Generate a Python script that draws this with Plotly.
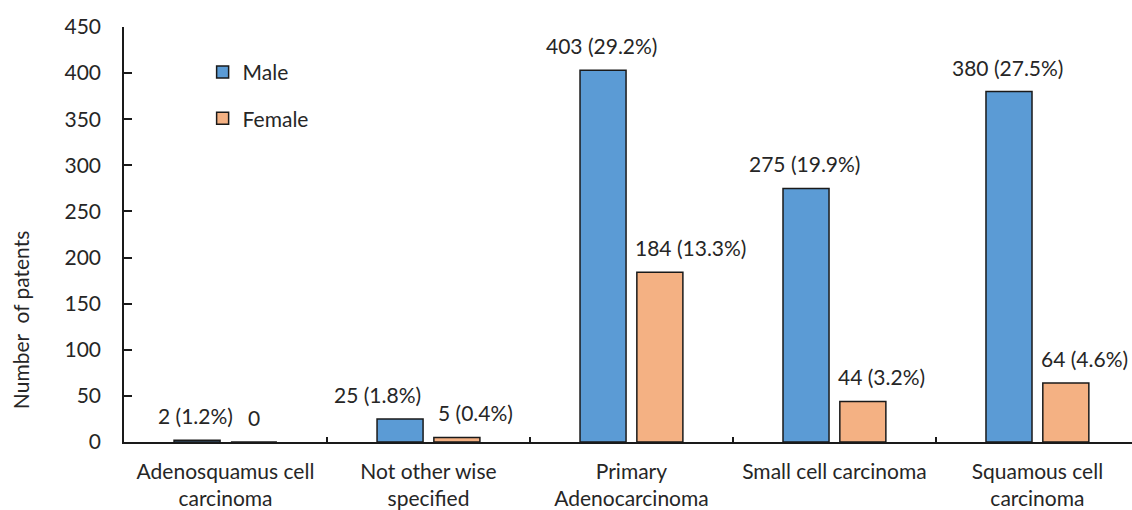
import plotly.graph_objects as go

categories = ["Adenosquamus cell<br>carcinoma", "Not other wise<br>specified",
              "Primary<br>Adenocarcinoma", "Small cell carcinoma",
              "Squamous cell<br>carcinoma"]
male = [2, 25, 403, 275, 380]
female = [0, 5, 184, 44, 64]
male_labels = ["2 (1.2%)", "25 (1.8%)", "403 (29.2%)", "275 (19.9%)", "380 (27.5%)"]
female_labels = ["0", "5 (0.4%)", "184 (13.3%)", "44 (3.2%)", "64 (4.6%)"]
y_ticks = [0, 50, 100, 150, 200, 250, 300, 350, 400, 450]

# label nudges (pixels), styling only
male_label_dx = [0, -21, 0, 0, 0]
female_label_dx = [19, 6, 0, 0, 0]

FONT = "Lato"
FS = 21
TXT = "#262626"

fig = go.Figure()
fig.add_trace(go.Bar(name="Male", x=categories, y=male,
                     marker=dict(color="#5B9BD5", line=dict(color="#1a1a1a", width=1.5)),
                     legendgroup="m"))
fig.add_trace(go.Bar(name="Female", x=categories, y=female,
                     marker=dict(color="#F4B183", line=dict(color="#1a1a1a", width=1.5)),
                     legendgroup="f"))

for c, v, t, dx in zip(categories, male, male_labels, male_label_dx):
    fig.add_annotation(x=c, y=v, text=t, showarrow=False, xref="x", yref="y",
                       xanchor="center", yanchor="bottom", xshift=-30 + dx, yshift=10,
                       font=dict(family=FONT, size=FS, color=TXT))
for c, v, t, dx in zip(categories, female, female_labels, female_label_dx):
    fig.add_annotation(x=c, y=v, text=t, showarrow=False, xref="x", yref="y",
                       xanchor="left", yanchor="bottom", xshift=2 + dx, yshift=10,
                       font=dict(family=FONT, size=FS, color=TXT))

fig.add_annotation(x=-0.102, y=0.294, xref="paper", yref="paper", text="Number  of patents",
                   textangle=-90, showarrow=False, xanchor="center", yanchor="middle",
                   font=dict(family=FONT, size=FS, color=TXT))

fig.update_layout(
    width=1132, height=510,
    margin=dict(l=124, r=0, t=27, b=68),
    plot_bgcolor="white", paper_bgcolor="white",
    barmode="group", bargap=0.44, bargroupgap=0.19,
    font=dict(family=FONT, size=FS, color=TXT),
    legend=dict(x=0.078, y=0.94, xanchor="left", yanchor="top",
                bgcolor="rgba(0,0,0,0)", traceorder="grouped", tracegroupgap=16,
                itemwidth=30,
                font=dict(family=FONT, size=FS, color=TXT)),
    xaxis=dict(range=[-0.5, 4.466], showline=True, linecolor="#1a1a1a", linewidth=1.5,
               ticks="inside", tickson="boundaries", ticklen=5, tickcolor="#1a1a1a",
               tickwidth=1.5, showgrid=False, zeroline=False, ticklabelstandoff=10),
    yaxis=dict(range=[0, 450], tickvals=y_ticks, showline=True, linecolor="#1a1a1a",
               linewidth=1.5, ticks="inside", ticklen=8, tickcolor="#1a1a1a", tickwidth=1.5,
               showgrid=False, zeroline=False, ticklabelstandoff=17),
)

fig.write_html("out.html")
